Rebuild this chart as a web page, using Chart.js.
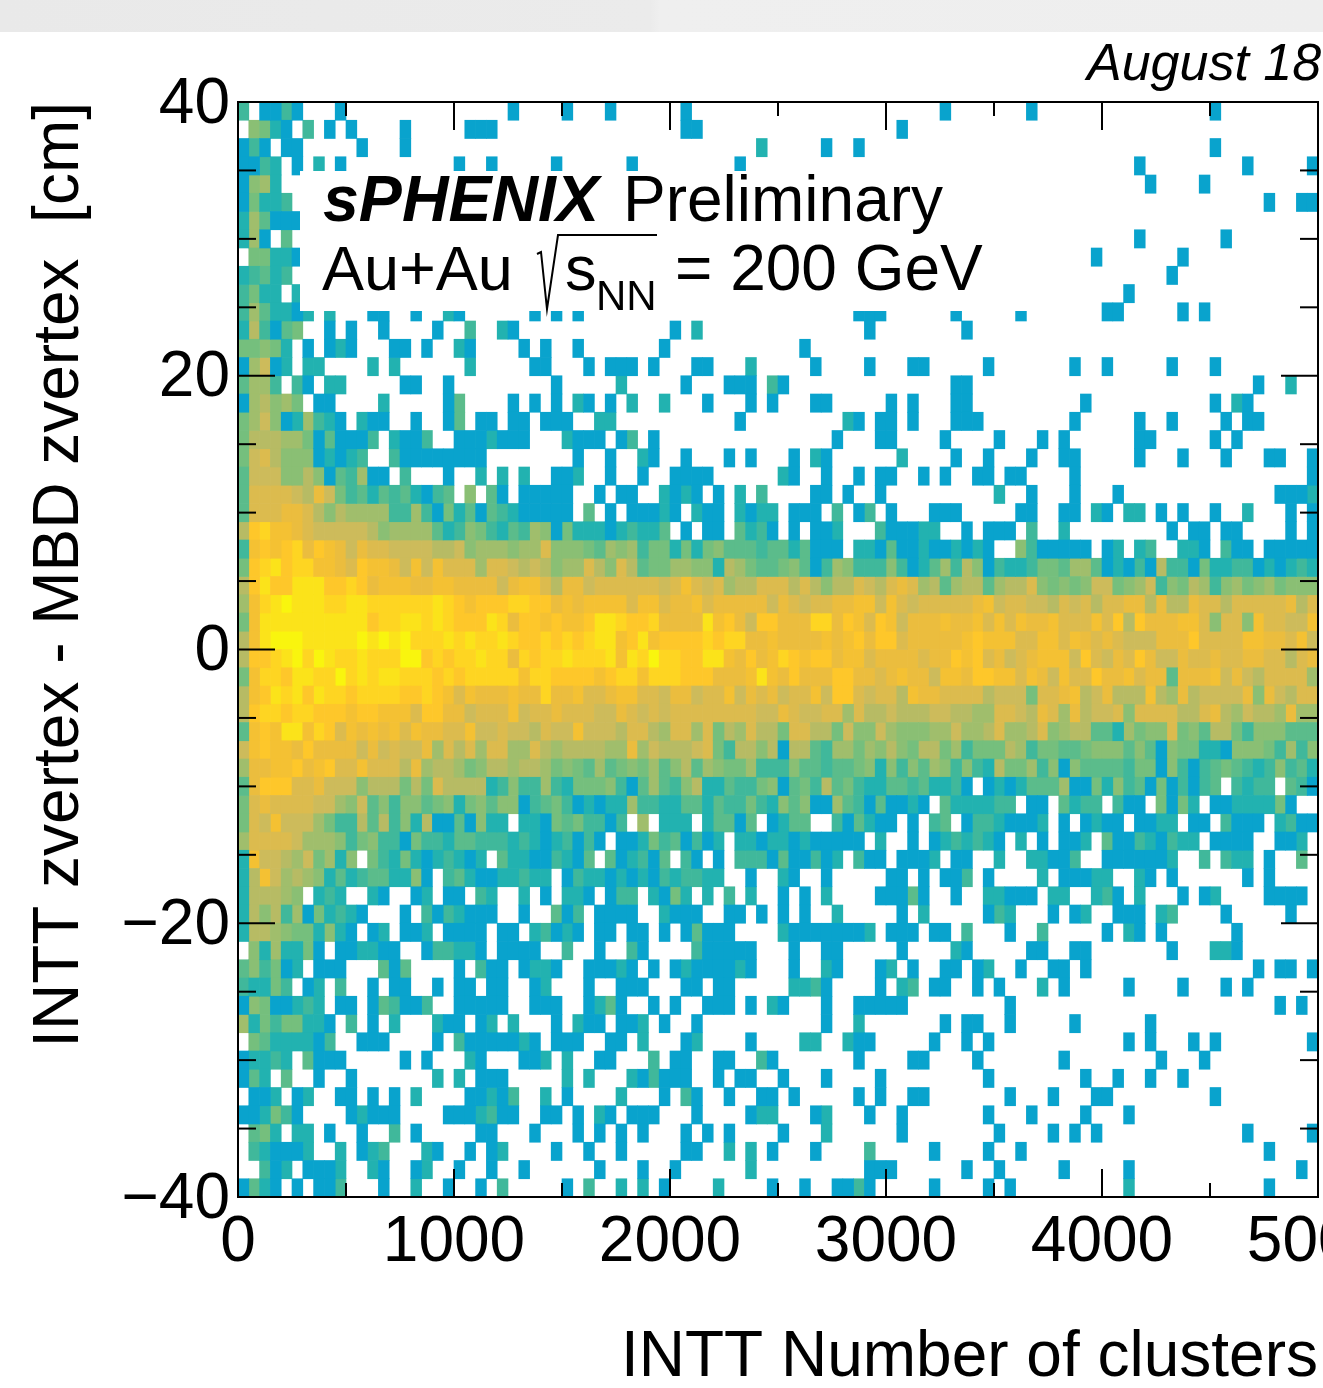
<!DOCTYPE html>
<html><head><meta charset="utf-8">
<style>html,body{margin:0;padding:0;background:#fff;overflow:hidden}
#strip{position:absolute;left:0;top:0;width:1323px;height:32px;background:linear-gradient(90deg,#e9e9e9 0,#ebebeb 650px,#efefef 660px,#eeeeee 1323px)}
canvas{position:absolute;left:0;top:0}</style>
<script src="https://cdn.jsdelivr.net/npm/chart.js@4"></script>
</head><body><div id="strip"></div><canvas id="c" width="1323" height="1388"></canvas>
<script>
// Axis values
const xTickValues=[0,1000,2000,3000,4000,5000];
const xTickLabels=['0','1000','2000','3000','4000','5000'];
const xMinorTicks=[500,1500,2500,3500,4500];
const yTickValues=[40,20,0,-20,-40];
const yTickLabels=['40','20','0','\u221220','\u221240'];
const yMinorTicks=[35,30,25,15,10,5,-5,-10,-15,-25,-30,-35];
const xBinCount=100, yBinCount=60;
// Colour of each z level, from 1 (lowest) to g (highest)
const levelKeys='123456789abcdefg';
const levelColors=['#09a3cd','#22b2b0','#40b89b','#5bbc8b','#75bf7d','#8abf74','#a0be6c','#b7bb64','#cdbb5b','#dcbb4e','#ebbd3e','#f4c133','#fec72a','#fed522','#fbe31a','#f9f50e'];
// z level per cell, top row first. Each token is startColumn:levels, '.' is an empty cell
const cellRows=[
"0:3.1131 9:1 25:1 30:1 34:1 41:1 65:1 73:1 90:1",
"1:6521.3 8:1 10:1 15:1 21:111 41:11 61:1",
"0:131.11 11:1 15:1 48:2 54:1 57:1 90:1",
"0:1132.1 7:2 9:1 20:1 23:1 29:1 36:1 46:1 83:1 93:1 99:1",
"0:1672 84:1 89:1",
"0:15223 95:1 98:11",
"0:274111",
"0:271.4 83:1 91:1",
"1:55221 79:1 87:1",
"0:23423 86:1",
"0:3522.2 82:1",
"0:3742212 8:2 12:11 16:1 19:21 27:1 29:1 31:1 57:111 66:1 72:1 80:11 87:1 89:1",
"0:283145 8:1 10:1 13:1 18:1 21:3 24:21 40:1 42:2 58:1 67:1",
"0:55652 6:1 8:121 14:11 17:1 20:21 26:1 28:1 31:1 39:1 52:1",
"0:17912 6:22 12:2 14:2 21:2 27:11 32:1 34:111 38:1 42:11 47:2 53:1 58:1 62:11 69:1 77:1 80:1 86:1 90:1",
"0:4773.31.22 15:11 19:1 29:1 35:2 41:1 45:111 49:31 66:11 94:1 97:2",
"0:178675.11 13:2 19:14 25:1 27:1 29:1 31:21 34:1 36:2 39:2 43:1 47:1 49:1 53:11 60:1 62:1 66:11 78:1 90:1 92:21",
"0:5796127321 11:211 16:1 19:14 22:11 25:11 28:111 33:22 46:1 56:21 59:11 62:1 66:111 77:1 83:1 86:1 91:1 93:11",
"0:5888775141113.2113 20:1112111 30:2111 35:13 38:1 55:1 59:11 65:1 70:1 74:1 76:1 83:11 90:1 92:1",
"0:59a866612123..3 15:11111111 31:1 34:1 37:21 41:1 45:1 47:1 51:1 53:21 61:2 66:1 69:1 73:1 76:11 83:1 87:1 91:1 95:11 99:1",
"0:49996686143711.3 19:1 22:2 24:2 26:2 29:112 34:1 37:1 40:1111 50:21 54:1 57:1 59:11 63:1 65:1 68:11 71:11 77:1 99:1",
"0:4aaaa98b953424342134.6.41.11111..1 35:11 39:2121.1 46:2 48:3 53:11 56:1 59:1 70:2 73:1 77:1 81:1 96:111 99:2",
"0:4aaabba868777733731524143211111.4 34:1 36:11121.211.2122.111.3.13.1 64:111 72:11 76:11 79:21 82:22 85:1 87:1 90:1 93:2 97:1 99:1",
"0:8deccba999998677774236532437615 31:222123224.1.11.4231.1.112...311122 67:1 69:111 73:3 76:2 86:1 88:11 91:11 97:1 99:1",
"0:3cdcdebdcb9baa9999 18:8896777677a6665 33:47673552525644434424111.2214112112121..6311111.12.23..221.311.11111",
"0:5defdeeccbadccb9c9caaa7aa9898677a 33:86a84557766 44:287544564 53:13763336312473 67:86132235547741 81:2131833152233121232",
"0:8dfddfffddedbcccbbccbbbb9bcca8bb9 33:aaaaaa9aca9a788aaa8a8688a98aba7847 67:884788a65656995679365873675675666",
"0:7cefgfffeeffeeeeeefedcdddeeddbcbc 33:cccaccabbcabbbbb9ba9aabbcc9ca9aaaa 67:abc9aa998a9a8aabb8b88baa8aaaaab8a",
"0:5cffffffffffdeeffefedddfebddcdccd 33:ffeddebbbbfcdb9ddbbbeebdcadc9bbbcb 67:bcacacbbcaaacad8dbbbcca6aa6caa99c",
"0:8cfgggfffffgfgfgeeefefeefeddedede 33:ffcdfcddddedeebbcbbbbcbcdbddabbbbb 67:cdcccaaccacbaba999bbbdaaaaccbbac9",
"0:8ddefgegfeefeeeggdedeefeebedeefee 33:efcfegeeddffcbdbcedcddbccabbbbabbd 67:cdab9abccc9da9badb99baabaabbaa8ab",
"0:5ceedffeegefeffeeededeeeeeceedddd 33:cdeeceeedddbbbcfcbdbbbddbbabcbb9cc 67:bddccacb9caadbbcabb4bbbc9b98aaaa7",
"0:8cdfefdfeedeeeeddedcacbbbcbbebbca 33:abccaa9bb9aac9bab9aac9dda9aa8cbbaa 67:aa89995aabc89b888c87b89999b6b98aa",
"0:8deedeedddcddcccaddbb9aaac9aabaaa 33:99ba9a9aaaaaaaa99ba99aa7a889888998 67:877aa98ba7b899a6aaaa88ab879887b77",
"0:4cdcffcedacbcbcacbbaac99a998a99c9 33:998aa87aa7a587a885aa88596697666779 67:778a778a67884427566a5648853666444",
"0:9cdccbdbbbb9b9a99b7a8a7aa77a87888 33:877b798889a53886818843775768658857 67:3555873554456664641655221666 95:53736",
"0:7bbccdbcdaacaaa8b7887568878875654 33:7456574684765573336443445626364763 67:632855736164444355163134543236342",
"0:4bdddaab9996888585a88882363373255 33:5631474368224335614538453224434223 67:1.12124447115263415131 89:34.3233.431",
"0:5abaaaa99769463664562564661345312 33:1227332244243353264611743141121.42 67:22233.11.4233.311.5152.11222251..",
"0:5a9c9997533848362811 20:41622.2215453 33:313.7.222.24414.1244..314211.1.34. 67:13321112.1.1211.1122.11.3111.2311",
"0:7aaaa977763563315332 20:4433323212313 33:1.1125341312.221221211111.2..1.123 67:2321.2.1.112.411321322.1111..112.",
"0:2c998795726.53252123 20:212.422113214 33:.412314.31.1.3331411312.311.1112.1 67:1..2..22113..1111112..3.322.1..4.",
"0:28c978762423442261.3 20:421122322.132 33:212121323322..1..21..1.....11.1.11 67:3.1....2.11122..21.1......1.1....",
"0:288876.232..21..12.1 20:1.32..2.1.221. 34:133.2152.2.3.2..1.1.2....11141..1 67:..22111.22..231.2...1.12....1111.",
"0:2868371523 10:21...1.313 20:2111..1..4 30:13.1 34:111 39:2111 45:11 48:1 50:1 52:1 55:2 61:1 63:2 69:132 75:1 77:12 81:111 85:23 91:1 97:1",
"0:2887655262 10:1.12.112.1 20:111.11.231 30:21 33:11 36:11 39:1 41:1 42:4 43:111 50:2 51:1111111 58:2 60:111 64:11 67:3 71:1 74:3 80:1 82:21 85:1 92:1",
"0:.6272251.1 10:12211..133 20:221.1111.. 30:3 33:1 36:31 42:3 43:11111 51:1 54:11 61:1 66:21 73:11 77:11 86:1 90:221",
"0:463512.111 13:414 20:1 22:311 26:1 27:22 29:1 32:111 35:21 38:1 40:1 41:2 42:1111 46:21 51:1 54:21 59:12 62:1 65:11 68:12 72:1 75:11 78:1 94:1 96:11 99:1",
"0:32253.12.3 12:1 14:11 18:1 20:11 23:11 27:12 32:1 35:111 41:11 44:11 51:223 54:1 59:1 61:23 64:11 68:1 70:1 74:2 76:1 82:1 87:1 91:1 93:1",
"0:16511232.11.143113 20:11111 27:111 32:1 33:24 35:1 38:1 40:1 43:111 47:1 49:21 54:1 57:11111 71:1 96:1 98:1",
"0:725355221.3.1.2 18:211 22:12 25:2 29:1 31:211 35:112 39:1 42:1 54:1 57:2 65:1 67:11 71:1 77:1 84:1",
"0:.54222213 11:111 18:1 20:3 21:11111 26:21 29:111 34:11 37:2 41:12 47:1 52:22 56:211 64:1 67:1 69:1 82:1 84:1 88:1 90:1 99:1",
"0:12232.4111 15:1 17:1 21:21 26:112 30:2 33:11 38:3 40:11 44:11 48:31 57:1 62:11 68:1 76:1 85:1 89:1",
"0:142.4 7:1 10:1 18:2 20:2 22:111 30:2 32:2 36:21 38:3 39:111 44:1 46:11 50:1 54:1 59:1 69:1 78:1 81:1 84:1 87:1",
"0:.112.12 9:11 12:1 14:1 16:2 21:11 23:213 28:2 30:1 35:2 39:1 41:31 45:1 48:11 51:1 57:1 59:1 62:11 71:1 75:1 79:11 90:1",
"0:112531 10:12111 19:111 22:2311 28:11 31:1 33:21 36:111 42:1 47:1 48:22 53:12 58:1 61:1 69:1 73:1 78:1 82:1",
"1:452.22 8:1 11:1 14:3 16:1 22:11 27:1 31:1 33:1 35:1 37:1 41:1 43:1 45:1 50:1 54:2 61:1 70:1 75:1 77:1 79:1 93:1 99:1",
"1:321112 9:2 11:123 17:21 21:1 23:12 29:1 32:1 35:1 41:11 45:2 47:2 49:1 53:1 58:3 64:1 69:1 72:1 95:1",
"2:312.1112 12:21 16:12 20:1 23:1 26:1 33:1 37:1 40:1 47:2 58:111 67:1 70:1 76:1 82:1 98:1",
"0:1421.1.113 13:1 16:2 19:1 22:1 24:3 30:1 32:3 35:2 37:2 39:1 44:2 49:1 52:1 55:113 58:1 64:1 69:1 71:1 82:2 95:1"
];
const xMin=0,xMax=5000,yMin=-40,yMax=40;
const FONT='"Liberation Sans"';
const binW=(xMax-xMin)/xBinCount, binH=(yMax-yMin)/yBinCount;
const datasets=levelColors.map(c=>({data:[],backgroundColor:c,hoverBackgroundColor:c}));
cellRows.forEach((row,r)=>{
  row.split(' ').forEach(tok=>{
    const [start,vals]=tok.split(':');
    [...vals].forEach((ch,i)=>{
      const lv=levelKeys.indexOf(ch);
      if(lv<0)return;
      const col=+start+i;
      const hi=yMax-r*binH;
      datasets[lv].data.push({x:xMin+(col+.5)*binW,y:[hi-binH,hi]});
    });
  });
});
const overlay={id:'overlay',afterDatasetsDraw(chart){
  const {ctx,chartArea:a,scales:{x,y}}=chart;
  ctx.save();
  // white box behind the label block, as in the reference
  ctx.fillStyle='#fff';ctx.fillRect(300,171,750,140);
  ctx.strokeStyle='#000';ctx.lineWidth=2;
  const seg=(x1,y1,x2,y2)=>{ctx.beginPath();ctx.moveTo(x1,y1);ctx.lineTo(x2,y2);ctx.stroke();};
  const xt=(v,l)=>{const p=x.getPixelForValue(v);seg(p,a.bottom,p,a.bottom-l);seg(p,a.top,p,a.top+l);};
  const yt=(v,l)=>{const p=y.getPixelForValue(v);seg(a.left,p,a.left+l,p);seg(a.right,p,a.right-l,p);};
  xTickValues.forEach(v=>xt(v,28));xMinorTicks.forEach(v=>xt(v,14));
  yTickValues.forEach(v=>yt(v,37));yMinorTicks.forEach(v=>yt(v,18));
  ctx.strokeRect(a.left,a.top,a.right-a.left,a.bottom-a.top);
  ctx.fillStyle='#000';ctx.textAlign='left';ctx.textBaseline='alphabetic';
  const T=(s,px,py,f)=>{ctx.font=f+' '+FONT;ctx.fillText(s,px,py);};
  T('August 18',1087,80,'italic 52px');
  T('sPHENIX',323,221,'italic bold 64.5px');
  T('Preliminary',623,221,'64px');
  T('Au+Au',322,290,'63px');
  T('s',565,290,'63px');
  T('NN',596,310,'42px');
  T('= 200 GeV',675,290,'64px');
  ctx.lineWidth=2;ctx.beginPath();ctx.moveTo(537,254);ctx.lineTo(541,252);ctx.lineTo(547,309);ctx.lineTo(558,235);ctx.lineTo(657,235);ctx.stroke();
  ctx.restore();
}};
const noPad=s=>{s.paddingLeft=0;s.paddingRight=0;s.paddingTop=0;s.paddingBottom=0;};
new Chart(document.getElementById('c'),{
  type:'bar',
  data:{datasets},
  plugins:[overlay],
  options:{
    responsive:false,animation:false,devicePixelRatio:1,
    datasets:{bar:{grouped:false,barPercentage:1,categoryPercentage:1,borderWidth:0}},
    layout:{autoPadding:false,padding:{left:0,right:5,top:102,bottom:0}},
    plugins:{legend:{display:false},tooltip:{enabled:false},title:{display:false}},
    events:[],
    scales:{
      x:{type:'linear',min:xMin,max:xMax,offset:false,
        grid:{display:false,drawTicks:false},border:{display:false},
        afterBuildTicks(s){s.ticks=xTickValues.map(value=>({value}));},
        afterFit(s){s.height=191;noPad(s);},
        ticks:{autoSkip:false,maxRotation:0,minRotation:0,padding:8,color:'#000',font:{family:FONT,size:64},
          callback:v=>xTickLabels[xTickValues.indexOf(v)]},
        title:{display:true,text:'INTT Number of clusters',align:'end',color:'#000',font:{family:FONT,size:64},padding:{top:0,bottom:-9}}},
      y:{type:'linear',min:yMin,max:yMax,
        grid:{display:false,drawTicks:false},border:{display:false},
        afterBuildTicks(s){s.ticks=yTickValues.slice().reverse().map(value=>({value}));},
        afterFit(s){s.width=238;noPad(s);},
        ticks:{autoSkip:false,padding:8,labelOffset:3,color:'#000',font:{family:FONT,size:64},
          callback:v=>yTickLabels[yTickValues.indexOf(v)]},
        title:{display:true,text:'INTT zvertex - MBD zvertex  [cm]',align:'end',color:'#000',font:{family:FONT,size:64},padding:{top:22,bottom:0}}}
    }
  }
});
</script></body></html>
